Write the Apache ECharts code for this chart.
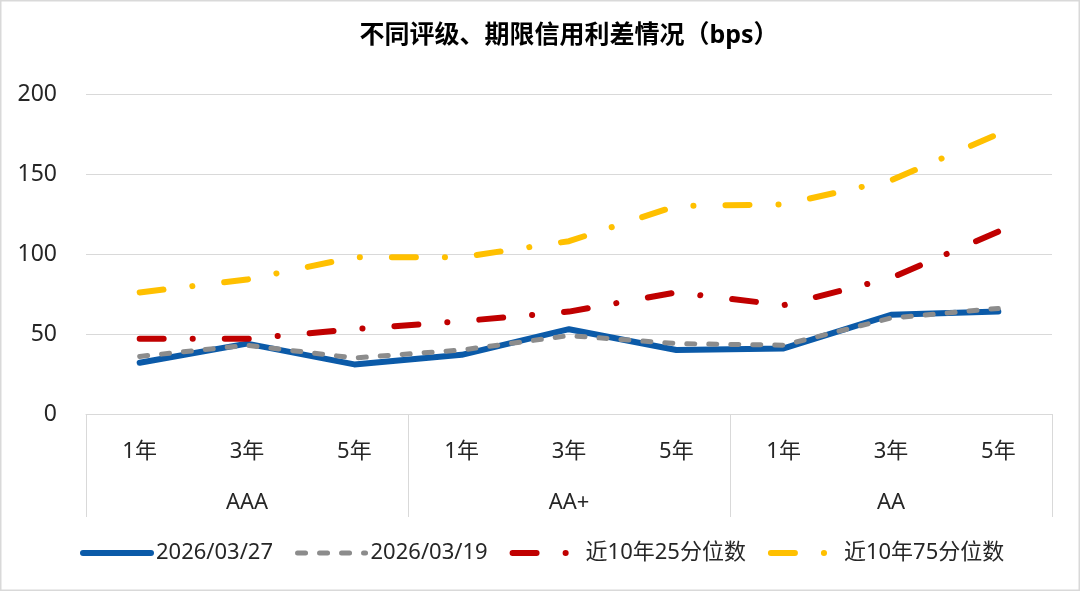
<!DOCTYPE html>
<html><head><meta charset="utf-8">
<script src="https://cdn.jsdelivr.net/npm/echarts@6/dist/echarts.min.js"></script>
<style>html,body{margin:0;padding:0;background:#fff}#c{width:1080px;height:591px}</style>
</head><body><div id="c"></div>
<script>
const categories = ['1年','3年','5年','1年','3年','5年','1年','3年','5年'];
const ratings = ['AAA','AA+','AA'];
const yTicks = [0, 50, 100, 150, 200];
const seriesNames = ['2026/03/27','2026/03/19','近10年25分位数','近10年75分位数'];
const v0327 = [32, 44, 31, 37, 53, 40, 41, 62, 64];
const v0319 = [36, 43, 35, 40, 49, 44, 43, 60, 66];
const p25 = [47, 47, 53, 58, 64, 76, 68, 85, 114];
const p75 = [76, 84, 98, 98, 108, 130, 131, 146, 175];

const FONT = '"Noto Sans","Noto Sans CJK SC",sans-serif';
const TXT = '#262626';
const GRID = '#d9d9d9';
const chart = echarts.init(document.getElementById('c'));
const dashDot = [24, 29, 0.1, 32];
function line(name, data, color, width, type) {
  return {
    name, type: 'line', data, symbol: 'none', showSymbol: false, smooth: false,
    xAxisIndex: 0, yAxisIndex: 0,
    lineStyle: { color, width, type, cap: 'round', join: 'round' },
    itemStyle: { color },
    emphasis: { disabled: true }
  };
}
chart.setOption({
  animation: false,
  backgroundColor: '#fff',
  textStyle: { fontFamily: FONT },
  title: {
    text: '不同评级、期限信用利差情况（bps）',
    left: 564, top: 18, textAlign: 'center',
    textStyle: { fontFamily: FONT, fontSize: 25, fontWeight: 'bold', color: '#000' }
  },
  graphic: [{
    type: 'rect', shape: { x: 0.5, y: 0.5, width: 1079, height: 590 },
    style: { fill: 'none', stroke: GRID, lineWidth: 2 }, silent: true, z: 100
  }],
  legend: {
    data: seriesNames, left: 75, top: 537,
    itemWidth: 68, itemHeight: 14, itemGap: 22,
    textStyle: { fontFamily: FONT, fontSize: 22, color: TXT },
    itemStyle: { opacity: 0 },
    lineStyle: { width: 'inherit' }
  },
  grid: { left: 86, right: 28, top: 94, bottom: 177, containLabel: false },
  xAxis: [{
    type: 'category', data: categories, position: 'bottom', boundaryGap: true,
    axisLine: { show: true, lineStyle: { color: GRID, width: 1 } },
    axisTick: { show: false },
    axisLabel: { margin: 27, fontSize: 22, color: TXT, fontFamily: FONT, interval: 0 }
  }, {
    type: 'category', data: ratings, position: 'bottom', boundaryGap: true,
    axisLine: { show: false },
    axisTick: { show: true, length: 103, lineStyle: { color: GRID, width: 1 } },
    axisLabel: { margin: 78, fontSize: 22, color: TXT, fontFamily: FONT, interval: 0 }
  }],
  yAxis: {
    type: 'value', min: yTicks[0], max: yTicks[yTicks.length - 1], interval: 50,
    axisLine: { show: false }, axisTick: { show: false },
    splitLine: { lineStyle: { color: GRID, width: 1 } },
    axisLabel: { margin: 29, fontSize: 23, color: TXT, fontFamily: FONT }
  },
  series: [
    line(seriesNames[0], v0327, '#0b5aa8', 6, 'solid'),
    line(seriesNames[1], v0319, '#8c8c8c', 5, [8, 14]),
    line(seriesNames[2], p25, '#c00000', 6, dashDot),
    line(seriesNames[3], p75, '#ffc000', 6, dashDot)
  ]
});
</script></body></html>
